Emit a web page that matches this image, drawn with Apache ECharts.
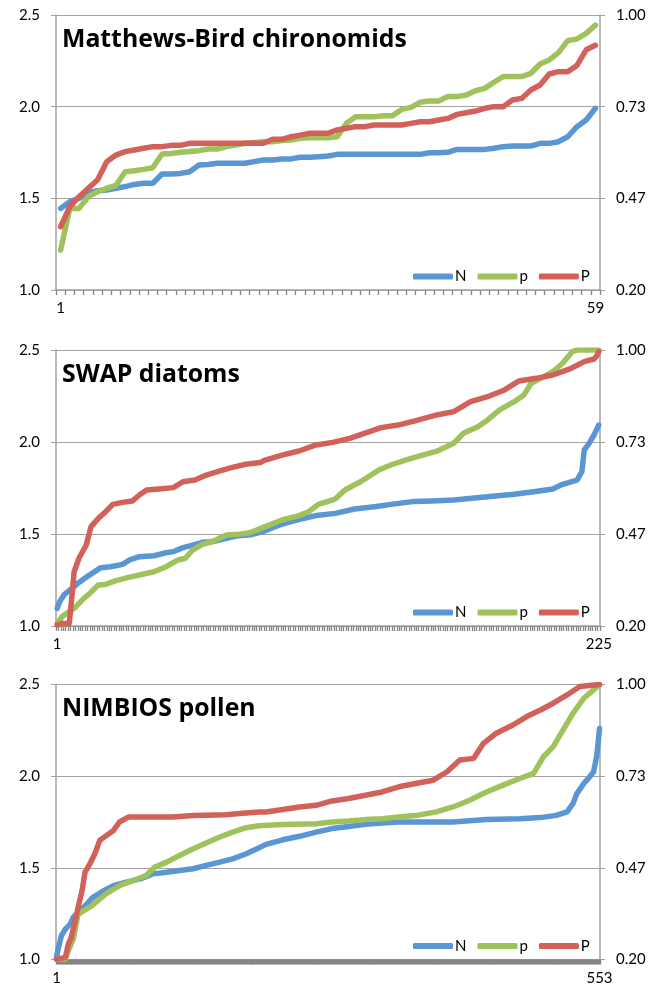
<!DOCTYPE html>
<html><head><meta charset="utf-8">
<script src="https://cdn.jsdelivr.net/npm/echarts@6/dist/echarts.min.js"></script>
<style>html,body{margin:0;padding:0;background:#fff}#c{width:662px;height:989px}</style>
</head><body><div id="c"></div>
<script>
// ---- data ----
const titles = ['Matthews-Bird chironomids', 'SWAP diatoms', 'NIMBIOS pollen'];
const sampleCounts = [59, 225, 553];
const seriesNames = ['N', 'p', 'P'];
const seriesColors = ['#5A96D3', '#9FC25D', '#D2615A'];
const leftTickLabels = ['1.0', '1.5', '2.0', '2.5'];
const rightTickLabels = ['0.20', '0.47', '0.73', '1.00'];

// Panel 1: Matthews-Bird chironomids (59 samples, one value each)
const chiroN = [1.445,1.482,1.500,1.531,1.542,1.545,1.555,1.564,1.576,1.582,1.582,1.633,1.633,1.636,1.645,1.682,1.685,1.691,1.691,1.691,1.691,1.700,1.709,1.709,1.715,1.715,1.724,1.724,1.727,1.731,1.740,1.740,1.740,1.740,1.740,1.740,1.740,1.740,1.740,1.740,1.749,1.749,1.751,1.767,1.767,1.767,1.767,1.773,1.782,1.785,1.785,1.785,1.800,1.800,1.809,1.836,1.891,1.927,1.991];
const chiroSmallP = [1.218,1.445,1.445,1.509,1.536,1.555,1.570,1.645,1.651,1.658,1.667,1.742,1.745,1.751,1.755,1.760,1.769,1.769,1.782,1.791,1.800,1.804,1.809,1.809,1.815,1.818,1.827,1.831,1.831,1.831,1.836,1.909,1.945,1.945,1.945,1.951,1.951,1.985,1.996,2.024,2.031,2.031,2.055,2.055,2.064,2.087,2.100,2.133,2.164,2.164,2.164,2.182,2.233,2.255,2.295,2.360,2.369,2.400,2.445];
const chiroBigP = [1.345,1.455,1.509,1.555,1.600,1.700,1.736,1.755,1.764,1.773,1.782,1.782,1.789,1.789,1.800,1.800,1.800,1.800,1.800,1.800,1.800,1.800,1.800,1.822,1.822,1.836,1.845,1.855,1.855,1.855,1.873,1.882,1.891,1.891,1.900,1.900,1.900,1.900,1.909,1.918,1.918,1.927,1.936,1.958,1.967,1.976,1.991,2.000,2.000,2.036,2.045,2.091,2.118,2.178,2.191,2.191,2.225,2.310,2.335];

// Panel 2: SWAP diatoms, readings as [sample index (0-based), value]
const swapN = [[0,1.096],[1,1.132],[3,1.172],[7,1.214],[9,1.237],[13,1.274],[18,1.317],[22,1.322],[27,1.335],[30,1.359],[34,1.377],[40,1.382],[44,1.395],[48,1.404],[52,1.426],[56,1.440],[60,1.455],[64,1.458],[70,1.476],[75,1.491],[80,1.496],[85,1.513],[92,1.549],[99,1.576],[107,1.600],[115,1.612],[123,1.636],[132,1.649],[138,1.661],[147,1.676],[155,1.680],[164,1.685],[178,1.703],[189,1.716],[197,1.730],[205,1.745],[209,1.770],[215,1.793],[217,1.839],[218,1.957],[220,1.993],[222,2.038],[224,2.092]];
const swapSmallP = [[0,1.014],[2,1.051],[7,1.096],[11,1.150],[13,1.172],[17,1.223],[20,1.226],[24,1.245],[29,1.263],[34,1.277],[40,1.295],[45,1.322],[50,1.359],[53,1.368],[56,1.413],[60,1.444],[64,1.458],[70,1.495],[75,1.498],[80,1.508],[86,1.540],[93,1.576],[100,1.600],[104,1.621],[108,1.661],[115,1.690],[119,1.739],[126,1.788],[133,1.848],[138,1.875],[144,1.902],[150,1.925],[157,1.950],[164,1.993],[168,2.047],[174,2.083],[178,2.120],[183,2.174],[189,2.219],[193,2.255],[196,2.319],[200,2.346],[205,2.382],[209,2.428],[213,2.491],[215,2.5],[224,2.5]];
const swapBigP = [[0,1.005],[2,1.014],[5,1.014],[6,1.150],[7,1.295],[9,1.368],[12,1.440],[14,1.540],[17,1.585],[20,1.621],[23,1.661],[27,1.672],[31,1.679],[34,1.712],[37,1.739],[42,1.745],[48,1.752],[52,1.784],[57,1.793],[61,1.817],[67,1.842],[72,1.861],[78,1.879],[84,1.889],[86,1.902],[93,1.929],[100,1.951],[107,1.984],[114,1.998],[121,2.020],[127,2.047],[134,2.078],[141,2.092],[148,2.115],[157,2.147],[164,2.165],[171,2.219],[178,2.246],[185,2.283],[191,2.332],[198,2.346],[205,2.364],[212,2.397],[218,2.437],[222,2.451],[223,2.465],[224,2.491]];

// Panel 3: NIMBIOS pollen, readings as [sample index (0-based), value]
const pollenN = [[0,1.011],[2,1.066],[5,1.130],[9,1.166],[14,1.193],[17,1.230],[24,1.266],[31,1.303],[37,1.339],[47,1.372],[58,1.403],[71,1.422],[85,1.440],[98,1.467],[112,1.476],[125,1.485],[139,1.495],[152,1.513],[166,1.531],[179,1.549],[193,1.577],[206,1.610],[213,1.628],[230,1.653],[247,1.672],[264,1.695],[280,1.714],[297,1.726],[314,1.737],[331,1.745],[348,1.750],[403,1.750],[437,1.763],[471,1.768],[492,1.774],[508,1.786],[519,1.805],[525,1.850],[529,1.905],[536,1.960],[542,1.996],[546,2.024],[549,2.106],[550,2.150],[552,2.260]];
const pollenSmallP = [[0,1.002],[9,1.002],[12,1.047],[17,1.111],[22,1.248],[29,1.270],[36,1.294],[42,1.321],[51,1.361],[64,1.403],[78,1.431],[91,1.458],[100,1.504],[112,1.531],[125,1.567],[139,1.604],[152,1.635],[166,1.668],[179,1.695],[193,1.719],[206,1.730],[230,1.737],[264,1.741],[280,1.750],[297,1.755],[314,1.763],[331,1.768],[348,1.777],[365,1.785],[386,1.805],[403,1.832],[420,1.869],[437,1.914],[454,1.951],[471,1.987],[485,2.015],[495,2.106],[505,2.161],[515,2.252],[525,2.343],[536,2.425],[546,2.471],[552,2.498]];
const pollenBigP = [[0,1.002],[9,1.011],[12,1.084],[15,1.120],[19,1.212],[22,1.285],[26,1.376],[29,1.476],[34,1.522],[39,1.577],[44,1.650],[51,1.677],[58,1.704],[64,1.750],[73,1.777],[118,1.777],[139,1.786],[172,1.790],[186,1.796],[206,1.805],[213,1.805],[230,1.818],[247,1.832],[264,1.841],[280,1.865],[297,1.878],[314,1.896],[331,1.914],[348,1.942],[365,1.960],[383,1.978],[397,2.024],[410,2.088],[424,2.097],[434,2.179],[447,2.234],[464,2.279],[478,2.325],[492,2.361],[505,2.398],[519,2.443],[532,2.489],[552,2.5]];

// ---- build ----
const panelData = [
  [chiroN.map((v, i) => [i, v]), chiroSmallP.map((v, i) => [i, v]), chiroBigP.map((v, i) => [i, v])],
  [swapN, swapSmallP, swapBigP],
  [pollenN, pollenSmallP, pollenBigP]
];
const gridTops = [15, 350, 684.5];
const gridHeights = [275, 276, 275];
const axisGray = '#A2A2A2';
const tickGray = '#858585';
const labelFont = 'Lato, "Liberation Sans", sans-serif';

const grid = [], xAxis = [], yAxis = [], series = [], title = [], legend = [];
for (let k = 0; k < 3; k++) {
  const n = sampleCounts[k];
  grid.push({ left: 56, right: 62, top: gridTops[k], height: gridHeights[k] });
  xAxis.push({
    type: 'category', gridIndex: k, boundaryGap: true,
    data: Array.from({ length: n }, (_, i) => String(i + 1)),
    axisLine: { lineStyle: { color: axisGray, width: 1.5 } },
    axisTick: { show: true, interval: 0, length: 5, lineStyle: { color: tickGray, width: 1.3 } },
    axisLabel: { interval: (idx) => idx === 0 || idx === n - 1, margin: 11, color: '#000', fontSize: 15, fontFamily: labelFont },
    splitLine: { show: false }
  });
  yAxis.push({
    type: 'value', gridIndex: k, position: 'left', min: 1, max: 2.5, interval: 0.5,
    axisLine: { show: true, lineStyle: { color: axisGray, width: 1.5 } },
    axisTick: { show: true, length: 5, lineStyle: { color: axisGray } },
    axisLabel: { margin: 16, color: '#000', fontSize: 15, fontFamily: labelFont,
      formatter: (v) => leftTickLabels[Math.round((v - 1) / 0.5)] },
    splitLine: { show: true, lineStyle: { color: axisGray, width: 1 } }
  });
  yAxis.push({
    type: 'value', gridIndex: k, position: 'right', min: 1, max: 2.5, interval: 0.5,
    axisLine: { show: true, lineStyle: { color: axisGray, width: 1.5 } },
    axisTick: { show: true, length: 5, lineStyle: { color: axisGray } },
    axisLabel: { margin: 16, color: '#000', fontSize: 15, fontFamily: labelFont,
      formatter: (v) => rightTickLabels[Math.round((v - 1) / 0.5)] },
    splitLine: { show: false }
  });
  for (let s = 0; s < 3; s++) {
    series.push({
      name: seriesNames[s], type: 'line', xAxisIndex: k, yAxisIndex: 2 * k,
      data: panelData[k][s], showSymbol: false, symbol: 'none', clip: true,
      color: seriesColors[s],
      lineStyle: { width: 5.5, color: seriesColors[s], cap: 'round', join: 'round' },
      emphasis: { disabled: true }, animation: false
    });
  }
  title.push({
    text: titles[k], left: 62, top: gridTops[k] + 12, padding: 0,
    textStyle: { fontFamily: '"Open Sans", sans-serif', fontWeight: 'bold', fontSize: 24.8, color: '#000' }
  });
  legend.push({
    data: seriesNames, left: 413, top: gridTops[k] + gridHeights[k] - 21, padding: 0,
    icon: 'roundRect', itemWidth: 40, itemHeight: 6, itemGap: 11,
    textStyle: { fontSize: 15, fontFamily: labelFont, color: '#000', padding: [4, 0, 0, -3] },
    selectedMode: false
  });
}

const chart = echarts.init(document.getElementById('c'), null, { renderer: 'canvas' });
chart.setOption({ animation: false, backgroundColor: '#fff', title, legend, grid, xAxis, yAxis, series });
</script>
</body></html>
